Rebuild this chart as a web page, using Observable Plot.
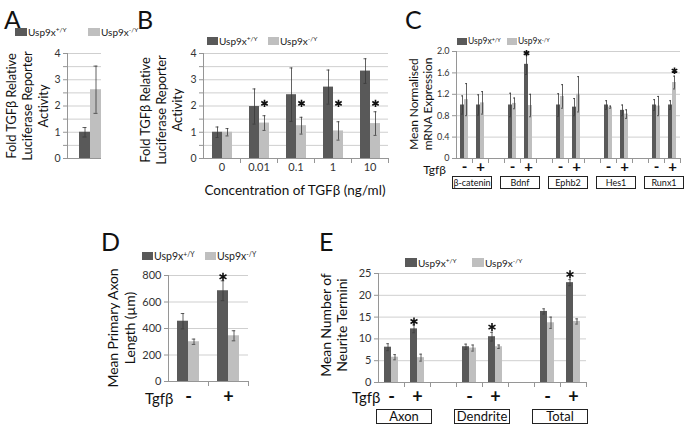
<!DOCTYPE html>
<html><head><meta charset="utf-8">
<script src="https://cdn.jsdelivr.net/npm/d3@7"></script>
<script src="https://cdn.jsdelivr.net/npm/@observablehq/plot@0.6"></script>
<style>
body{margin:0;background:#fff}
#fig{position:relative;width:686px;height:428px;overflow:hidden;font-family:Lato,"Open Sans",sans-serif;color:#111;background:#fff}
#fig svg{position:absolute;left:0;top:0}
.t{position:absolute;white-space:nowrap}
.rot{position:absolute;white-space:nowrap;text-align:center;transform:translate(-50%,-50%) rotate(-90deg)}
.sq{position:absolute}
.box{position:absolute;border:1px solid #222;text-align:center;box-sizing:border-box;white-space:nowrap}
sup{font-size:0.65em;vertical-align:top;position:relative;top:-0.25em}
</style>
</head><body><div id="fig"></div>
<script>
// ---------- data ----------
const genotypes = ["+/Y", "-/Y"];
const legendName = "Usp9x";
const tgf = ["-", "+"];
const tgfLabel = "Tgfβ";

// Panel A
const aMean = [1.0, 2.62];
const aErr = [0.18, 0.9];
const aTicks = [0, 1, 2, 3, 4];
const aGrid = [0, 0.5, 1, 1.5, 2, 2.5, 3, 3.5, 4];
const aTitle = ["Fold TGFβ Relative", "Luciferase Reporter", "Activity"];

// Panel B
const bConc = ["0", "0.01", "0.1", "1", "10"];
const bWT = [1.0, 1.98, 2.43, 2.72, 3.33];
const bWTErr = [0.2, 0.67, 1.02, 0.65, 0.47];
const bKO = [1.0, 1.35, 1.25, 1.05, 1.33];
const bKOErr = [0.14, 0.28, 0.32, 0.35, 0.45];
const bStarWT = [null, null, null, null, null];
const bStarKO = [null, 2.1, 2.1, 2.1, 2.1];
const bXTitle = "Concentration of TGFβ (ng/ml)";

// Panel C
const cGenes = ["β-catenin", "Bdnf", "Ephb2", "Hes1", "Runx1"];
const cWT = [1.0, 1.0, 1.0, 1.76, 1.0, 0.96, 1.0, 0.9, 1.0, 1.0];
const cWTErr = [0.17, 0.19, 0.22, 0.19, 0.21, 0.16, 0.08, 0.1, 0.1, 0.08];
const cKO = [1.1, 1.04, 1.03, 0.99, 1.16, 1.2, 0.96, 0.83, 0.98, 1.42];
const cKOErr = [0.3, 0.21, 0.1, 0.21, 0.22, 0.33, 0.02, 0.08, 0.18, 0.12];
const cStarWT = [null, null, null, 1.97, null, null, null, null, null, null];
const cStarKO = [null, null, null, null, null, null, null, null, null, 1.64];
const cTicks = [0, 0.4, 0.8, 1.2, 1.6, 2.0];
const cTickLabels = ["0", "0.4", "0.8", "1.2", "1.6", "2.0"];
const cTitle = ["Mean Normalised", "mRNA Expression"];

// Panel D
const dWT = [455, 685];
const dWTErr = [58, 75];
const dKO = [300, 345];
const dKOErr = [20, 38];
const dStarWT = [null, 790];
const dStarKO = [null, null];
const dTicks = [0, 200, 400, 600, 800];
const dTitle = ["Mean Primary Axon", "Length (µm)"];

// Panel E
const eParts = ["Axon", "Dendrite", "Total"];
const eWT = [8.1, 12.3, 8.2, 10.5, 16.3, 22.9];
const eWTErr = [0.8, 0.9, 0.6, 1.0, 0.6, 0.7];
const eKO = [5.8, 5.7, 7.9, 8.2, 13.7, 14.0];
const eKOErr = [0.6, 0.8, 0.7, 0.4, 1.3, 0.6];
const eStarWT = [null, 14.0, null, 12.7, null, 24.8];
const eStarKO = [null, null, null, null, null, null];
const eTicks = [0, 5, 10, 15, 20, 25];
const eTitle = ["Mean Number of", "Neurite Termini"];

// ---------- helpers ----------
const W = 686, H = 428;
const DARK = "#595959", LIGHT = "#bfbfbf", GRID = "#cfcfcf", AXIS = "#969696", ERR = "#3a3a3a", TXT = "#333";
const FONT = "Lato, 'Open Sans', sans-serif";
const fig = document.getElementById("fig");

function frame(l, t, r, b) {
  return {width: W, height: H, marginLeft: l, marginTop: t, marginRight: W - r, marginBottom: H - b};
}
function rows(slots, wt, wtE, ko, koE, sWT, sKO) {
  return slots.flatMap((s, i) => [
    {slot: s, g: genotypes[0], v: wt[i], e: wtE[i], star: sWT[i]},
    {slot: s, g: genotypes[1], v: ko[i], e: koE[i], star: sKO[i]}
  ]);
}
// blank category slots (like the empty categories of the original spreadsheet chart)
function spacers(keys) {
  return keys.map(s => ({slot: s, g: genotypes[0], v: NaN, e: NaN, star: null}));
}
function barMarks(data, faceted, capInset, starR) {
  const o = faceted ? {fx: "slot"} : {};
  return [
    Plot.barY(data, {...o, x: "g", y: "v", fill: "g"}),
    Plot.ruleX(data, {...o, x: "g", y1: d => d.v - d.e, y2: d => d.v + d.e, stroke: ERR, strokeWidth: 0.8}),
    Plot.tickY(data, {...o, x: "g", y: d => d.v + d.e, stroke: ERR, strokeWidth: 0.8, insetLeft: capInset, insetRight: capInset}),
    Plot.tickY(data, {...o, x: "g", y: d => d.v - d.e, stroke: ERR, strokeWidth: 0.8, insetLeft: capInset, insetRight: capInset}),
    Plot.dot(data.filter(d => d.star != null), {...o, x: "g", y: "star", symbol: "asterisk", r: starR, stroke: "#111", strokeWidth: 1.6})
  ];
}
function yAxis(ticks, fmt, fs, faceted, frameH) {
  const marks = [
    Plot.axisY({ticks, tickFormat: fmt, tickSize: 4, tickPadding: 3, stroke: AXIS, fill: TXT, fontSize: fs, label: null}),
  ];
  marks.push(Plot.frame(faceted ? {anchor: "left", stroke: AXIS, facetAnchor: "left"} : {anchor: "left", stroke: AXIS}));
  marks.push(Plot.ruleY([0], {stroke: AXIS}));
  if (faceted) {
    // category-boundary tick marks below the horizontal axis
    marks.push(Plot.frame({anchor: "right", stroke: AXIS, insetTop: frameH, insetBottom: -4}));
  }
  return marks;
}
const baseStyle = {background: "transparent", fontFamily: FONT, overflow: "visible"};
const color = {domain: genotypes, range: [DARK, LIGHT]};

function html(cls, text, css) {
  const d = document.createElement("div");
  d.className = cls;
  d.innerHTML = text;
  Object.assign(d.style, css);
  fig.appendChild(d);
  return d;
}
function legend(x1, x2, top, sw, sh, fs) {
  [x1, x2].forEach((x, i) => {
    html("sq", "", {left: x + "px", top: top + "px", width: sw + "px", height: sh + "px", background: i ? LIGHT : DARK});
    html("t", legendName + "<sup>" + genotypes[i] + "</sup>", {left: (x + sw + 1) + "px", top: (top + sh / 2 - fs * 0.6) + "px", fontSize: fs + "px", lineHeight: (fs * 1.2) + "px", color: "#222"});
  });
}
function rotTitle(lines, cx, cy, fs, lh) {
  html("rot", lines.join("<br>"), {left: cx + "px", top: cy + "px", fontSize: fs + "px", lineHeight: lh + "px", color: "#111", letterSpacing: "-0.1px"});
}
function letter(ch, x, y) {
  html("t", ch, {left: x + "px", top: y + "px", fontSize: "25px", lineHeight: "25px", color: "#111"});
}
const slotLabel = s => s.includes("|") ? s.split("|")[1] : "";

// ---------- Panel A ----------
const aData = rows(["A"], aMean.slice(0, 1), aErr.slice(0, 1), aMean.slice(1), aErr.slice(1), [null], [null]);
fig.appendChild(Plot.plot({
  ...frame(67, 53, 101, 158),
  style: baseStyle,
  x: {domain: genotypes, paddingInner: 0, paddingOuter: 0.417, align: 1, axis: null},
  y: {domain: [0, 4], axis: null},
  color,
  marks: [
    Plot.ruleY(aGrid, {stroke: GRID}),
    ...barMarks(aData, false, 3.5, 3.5),
    ...yAxis(aGrid, d => aTicks.includes(d) ? String(d) : "", 10.5, false, 105)
  ]
}));
letter("A", 4, 7);
legend(15, 88, 28, 12, 8, 10);
rotTitle(aTitle, 27, 106, 13, 16);

// ---------- Panel B ----------
const bData = rows(bConc, bWT, bWTErr, bKO, bKOErr, bStarWT, bStarKO);
fig.appendChild(Plot.plot({
  ...frame(202, 53, 388, 158),
  style: baseStyle,
  fx: {domain: bConc, padding: 0, axis: null},
  x: {domain: genotypes, paddingInner: 0, paddingOuter: 0.69, axis: null},
  y: {domain: [0, 4], axis: null},
  color,
  marks: [
    Plot.ruleY(aGrid, {stroke: GRID}),
    ...barMarks(bData, true, 3.5, 3.5),
    ...yAxis(aGrid, d => aTicks.includes(d) ? String(d) : "", 10.5, true, 105),
    Plot.axisFx({anchor: "bottom", label: null, tickSize: 0, tickPadding: 5, fontSize: 11, fill: TXT})
  ]
}));
letter("B", 137, 7);
legend(207, 268, 37, 11, 8, 10);
rotTitle(aTitle, 161, 110, 13, 16);
html("t", bXTitle, {left: "295px", top: "181px", fontSize: "13.5px", lineHeight: "18px", transform: "translateX(-50%)"});

// ---------- Panel C ----------
const cSlots = cGenes.flatMap(g => tgf.map(t => g + "|" + t));
const cGaps = cGenes.slice(1).map((g, i) => "gap" + i);
const cDomain = cGenes.flatMap((g, i) => [...tgf.map(t => g + "|" + t), ...(i < cGaps.length ? [cGaps[i]] : [])]);
const cData = rows(cSlots, cWT, cWTErr, cKO, cKOErr, cStarWT, cStarKO).concat(spacers(cGaps));
const cPlot = Plot.plot({
  ...frame(455, 51, 681, 158),
  style: baseStyle,
  fx: {domain: cDomain, padding: 0, axis: null},
  x: {domain: genotypes, paddingInner: 0, paddingOuter: 0.61, axis: null},
  y: {domain: [0, 2], axis: null},
  color,
  marks: [
    Plot.ruleY(cTicks, {stroke: GRID}),
    ...barMarks(cData, true, 1, 3),
    ...yAxis(cTicks, d => cTickLabels[cTicks.indexOf(d)], 9, true, 107),
    Plot.axisFx({anchor: "bottom", label: null, tickSize: 0, tickPadding: 3, fontSize: 15, fontWeight: "bold", fill: "#111", tickFormat: slotLabel})
  ]
});
fig.appendChild(cPlot);
letter("C", 405, 7);
legend(457, 507, 38, 10, 7, 8.5);
rotTitle(cTitle, 421, 104, 12, 14);
html("t", tgfLabel, {left: "446px", top: "163px", fontSize: "12px", lineHeight: "14px", transform: "translateX(-100%)"});
{
  const fx = cPlot.scale("fx");
  cGenes.forEach(g => {
    const c = (fx.apply(g + "|" + tgf[0]) + fx.apply(g + "|" + tgf[1]) + fx.bandwidth) / 2;
    html("box", g, {left: (c - 20) + "px", top: "176px", width: "40px", height: "13px", fontSize: "9px", lineHeight: "11px"});
  });
}

// ---------- Panel D ----------
const dData = rows(tgf, dWT, dWTErr, dKO, dKOErr, dStarWT, dStarKO);
fig.appendChild(Plot.plot({
  ...frame(168, 275, 248, 381),
  style: baseStyle,
  fx: {domain: tgf, padding: 0, axis: null},
  x: {domain: genotypes, paddingInner: 0, paddingOuter: 0.74, axis: null},
  y: {domain: [0, 800], axis: null},
  color,
  marks: [
    Plot.ruleY(dTicks, {stroke: GRID}),
    ...barMarks(dData, true, 3.75, 3.8),
    ...yAxis(dTicks, d => String(d), 11, true, 106),
    Plot.axisFx({anchor: "bottom", label: null, tickSize: 0, tickPadding: 9, fontSize: 18, fontWeight: "bold", fill: "#111"})
  ]
}));
letter("D", 101, 229);
legend(142, 205, 252, 11, 8, 10.5);
rotTitle(dTitle, 121, 328, 14, 17);
html("t", tgfLabel, {left: "145px", top: "389px", fontSize: "15px", lineHeight: "18px"});

// ---------- Panel E ----------
const eSlots = eParts.flatMap(p => tgf.map(t => p + "|" + t));
const eGaps = eParts.slice(1).map((p, i) => "gap" + i);
const eDomain = eParts.flatMap((p, i) => [...tgf.map(t => p + "|" + t), ...(i < eGaps.length ? [eGaps[i]] : [])]);
const eData = rows(eSlots, eWT, eWTErr, eKO, eKOErr, eStarWT, eStarKO).concat(spacers(eGaps));
const ePlot = Plot.plot({
  ...frame(377, 273, 587, 382),
  style: baseStyle,
  fx: {domain: eDomain, padding: 0, axis: null},
  x: {domain: genotypes, paddingInner: 0, paddingOuter: 0.75, axis: null},
  y: {domain: [0, 25], axis: null},
  color,
  marks: [
    Plot.ruleY(eTicks, {stroke: GRID}),
    ...barMarks(eData, true, 2.25, 3.8),
    ...yAxis(eTicks, d => String(d), 11, true, 109),
    Plot.axisFx({anchor: "bottom", label: null, tickSize: 0, tickPadding: 8, fontSize: 18, fontWeight: "bold", fill: "#111", tickFormat: slotLabel})
  ]
});
fig.appendChild(ePlot);
letter("E", 319, 229);
legend(405, 472, 258, 12, 9, 10);
rotTitle(eTitle, 334, 325, 14, 16);
html("t", tgfLabel, {left: "352px", top: "388px", fontSize: "15px", lineHeight: "18px"});
{
  const fx = ePlot.scale("fx");
  eParts.forEach(p => {
    const c = (fx.apply(p + "|" + tgf[0]) + fx.apply(p + "|" + tgf[1]) + fx.bandwidth) / 2;
    html("box", p, {left: (c - 28) + "px", top: "409px", width: "56px", height: "15px", fontSize: "13px", lineHeight: "13px"});
  });
}
</script></body></html>
